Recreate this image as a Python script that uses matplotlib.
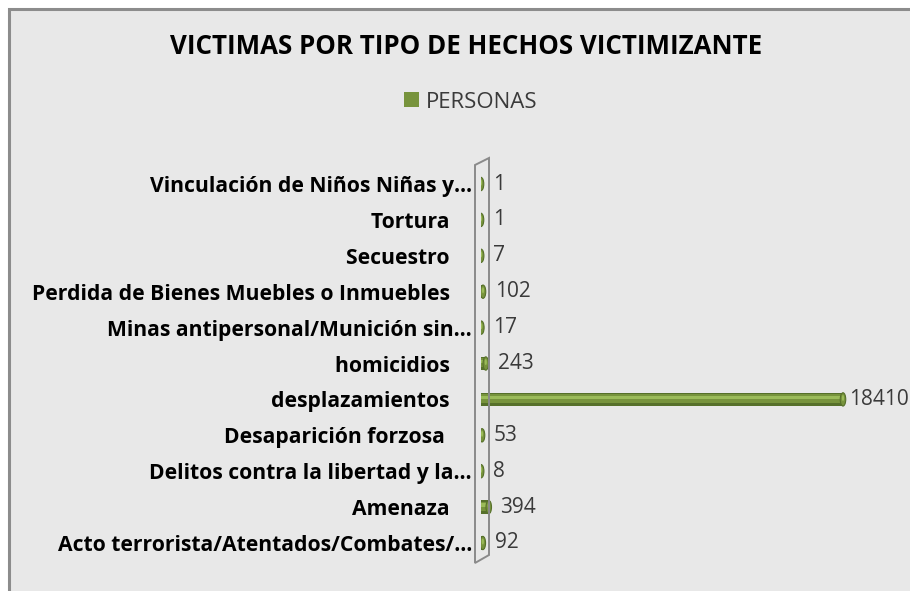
"""
Victimas por tipo de hecho victimizante: 3D-style horizontal cylinder bars.
"""

import matplotlib.pyplot as plt
from matplotlib.patches import Ellipse, Patch, Polygon, Rectangle
import numpy as np

# ---------------------------------------------------------------------------
# Data (top to bottom as shown)
# ---------------------------------------------------------------------------
categories = [
    "Vinculación de Niños Niñas y…",
    "Tortura    ",
    "Secuestro    ",
    "Perdida de Bienes Muebles o Inmuebles    ",
    "Minas antipersonal/Munición sin…",
    "homicidios    ",
    "desplazamientos    ",
    "Desaparición forzosa     ",
    "Delitos contra la libertad y la…",
    "Amenaza    ",
    "Acto terrorista/Atentados/Combates/…",
]
values = [1, 1, 7, 102, 17, 243, 18410, 53, 8, 394, 92]
series_name = "PERSONAS"
title = "VICTIMAS POR TIPO DE HECHOS VICTIMIZANTE"

# ---------------------------------------------------------------------------
# Style
# ---------------------------------------------------------------------------
W, H, DPI = 910, 591, 100
GREEN_DARK = "#56702A"
GREEN = "#77933C"
GREEN_LIGHT = "#9BBB59"
BG = "#E8E8E8"
FRAME = "#8C8C8C"
TEXT = "#3A3A3A"

plt.rcParams["font.family"] = ["Open Sans", "DejaVu Sans"]


def fx(px):
    return px / W


def fy(py):
    return 1 - py / H


fig = plt.figure(figsize=(W / DPI, H / DPI), dpi=DPI)
fig.patch.set_facecolor("white")

# chart area with frame (right/bottom run off the picture)
fig.add_artist(Rectangle((fx(9), fy(H + 20)), 1.2, fy(9) - fy(H + 20),
                         transform=fig.transFigure, facecolor=BG,
                         edgecolor=FRAME, linewidth=2.2, zorder=0))

# ---------------------------------------------------------------------------
# Axes: zero at x=481 px, max value at 843 px; rows 35.9 px apart
# ---------------------------------------------------------------------------
x0_px, xmax_px = 481, 843
pitch = 35.9
top_row_px = 184
n = len(categories)
ax_top = top_row_px - pitch / 2
ax_bot = ax_top + n * pitch
ax = fig.add_axes([fx(x0_px), fy(ax_bot), 1 - fx(x0_px), (ax_bot - ax_top) / H])
ax.patch.set_alpha(0)
scale = max(values) / (xmax_px - x0_px)  # data units per pixel
ax.set_xlim(0, (W - x0_px) * scale)
ax.set_ylim(-0.5, n - 0.5)

ypos = np.arange(n)[::-1]
bar_h = 0.37
cap_w = 5.5 * scale
label_max = (849 - x0_px) * scale  # labels kept inside the chart area

# cylinder body: layered bands for shading
ax.barh(ypos, values, height=bar_h, color=GREEN_DARK, linewidth=0, zorder=3)
ax.barh(ypos + 0.02, values, height=bar_h * 0.66, color=GREEN, linewidth=0, zorder=4)
ax.barh(ypos + 0.06, values, height=bar_h * 0.25, color=GREEN_LIGHT, linewidth=0, zorder=5)
for yv, v in zip(ypos, values):
    ax.add_patch(Ellipse((v, yv), cap_w, bar_h, facecolor=GREEN,
                         edgecolor=GREEN_DARK, linewidth=0.8, zorder=6))
    ax.add_patch(Ellipse((v, yv + 0.04), cap_w * 0.4, bar_h * 0.45,
                         facecolor=GREEN_LIGHT, linewidth=0, zorder=7))
    lx = min(v + cap_w / 2 + 9 * scale, label_max)
    ax.text(lx, yv, f"{v}", ha="left", va="center", fontsize=15,
            color=TEXT, zorder=8, clip_on=False)

ax.set_yticks(ypos)
ax.set_yticklabels(categories, fontsize=15.2, fontweight="bold", color="black")
ax.tick_params(axis="y", length=0, pad=6.5)
ax.set_xticks([])
for s in ax.spines.values():
    s.set_visible(False)

# thin 3D wall along the category axis
wall = [(475, 165), (489, 158), (489, 555), (475, 563)]
fig.add_artist(Polygon([(fx(a), fy(b)) for a, b in wall], closed=True,
                       transform=fig.transFigure, facecolor="none",
                       edgecolor="#8A8A8A", linewidth=1.4, zorder=2))

# title and legend
fig.text(fx(466), fy(46), title, ha="center", va="center", fontsize=18.6,
         fontweight="bold", color="black")
fig.legend(handles=[Patch(facecolor=GREEN)], labels=[series_name],
           loc="center", bbox_to_anchor=(fx(471), fy(102)), frameon=False,
           handlelength=0.68, handleheight=0.68, handletextpad=0.3,
           fontsize=16, labelcolor=TEXT)

fig.savefig("out.png", dpi=DPI)
